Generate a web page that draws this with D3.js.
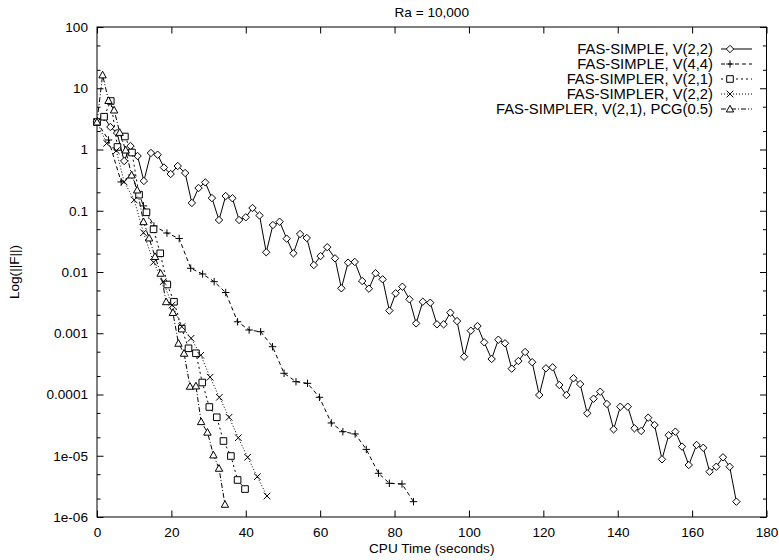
<!DOCTYPE html>
<html><head><meta charset="utf-8">
<script src="https://cdn.jsdelivr.net/npm/d3@7/dist/d3.min.js"></script>
<style>
html,body{margin:0;padding:0;background:#fff;}
svg{display:block;font-family:"Liberation Sans",Arial,Helvetica,sans-serif;}
</style></head><body>
<svg id="chart" width="779" height="560"></svg>
<script>
// ---------- data ----------
const titleText = "Ra = 10,000";
const xLabelText = "CPU Time (seconds)";
const yLabelText = "Log(||F||)";
const xTicks = [0, 20, 40, 60, 80, 100, 120, 140, 160, 180];
const yTicks = [100, 10, 1, 0.1, 0.01, 0.001, 0.0001, 1e-5, 1e-6];
const yTickLabels = ["100", "10", "1", "0.1", "0.01", "0.001", "0.0001", "1e-05", "1e-06"];
const yMinorTicks = [50, 20, 5, 2, 0.5, 0.2, 0.05, 0.02, 0.005, 0.002, 5e-4, 2e-4, 5e-5, 2e-5, 5e-6, 2e-6];
const seriesNames = [
  "FAS-SIMPLE, V(2,2)",
  "FAS-SIMPLE, V(4,4)",
  "FAS-SIMPLER, V(2,1)",
  "FAS-SIMPLER, V(2,2)",
  "FAS-SIMPLER, V(2,1), PCG(0.5)"
];

const timeSimple22 = [0, 1.9, 3.6, 5.4, 7.3, 9.0, 10.9, 12.6, 14.5, 16.3,
  18.0, 19.8, 21.7, 23.7, 25.5, 27.3, 29.1, 30.9, 32.8, 34.6,
  36.4, 38.2, 40.0, 41.8, 43.7, 45.5, 47.3, 49.1, 51.0, 52.8,
  54.6, 56.4, 58.3, 60.1, 61.9, 64.0, 65.7, 67.5, 69.3, 71.3,
  73.1, 74.9, 76.8, 78.6, 80.3, 82.1, 84.0, 85.8, 87.6, 89.6,
  91.4, 93.2, 95.0, 96.8, 98.7, 100.5, 102.3, 104.1, 106.1, 107.9,
  109.7, 111.5, 113.3, 115.1, 117.0, 118.9, 120.7, 122.5, 124.3, 126.2,
  128.1, 129.9, 131.8, 133.5, 135.3, 137.1, 138.9, 140.7, 142.7, 144.5,
  146.3, 148.2, 149.9, 151.9, 153.7, 155.5, 157.3, 159.1, 161.2, 163.0,
  164.7, 166.5, 168.3, 170.1, 171.9];
const resSimple22 = [2.81, 3.39, 2.33, 1.86, 0.649, 1.14, 0.783, 0.306, 0.877, 0.822,
  0.508, 0.398, 0.538, 0.413, 0.134, 0.235, 0.291, 0.161, 0.0706, 0.174,
  0.160, 0.0706, 0.0782, 0.111, 0.0836, 0.0210, 0.0585, 0.0662, 0.0350, 0.0202,
  0.0417, 0.0359, 0.0130, 0.0182, 0.0254, 0.0167, 0.00542, 0.0142, 0.0146, 0.00713,
  0.00534, 0.00953, 0.0076, 0.00234, 0.00449, 0.00575, 0.00358, 0.00145, 0.00327, 0.00315,
  0.00140, 0.00140, 0.00217, 0.00158, 4.14e-4, 1.10e-3, 1.31e-3, 7.11e-4, 3.80e-4, 7.85e-4,
  6.86e-4, 2.64e-4, 3.52e-4, 4.94e-4, 3.37e-4, 9.8e-5, 2.68e-4, 2.78e-4, 1.43e-4, 9.8e-5,
  1.84e-4, 1.48e-4, 4.93e-5, 8.53e-5, 1.11e-4, 7.0e-5, 2.70e-5, 6.32e-5, 6.32e-5, 2.81e-5,
  2.54e-5, 4.18e-5, 3.18e-5, 8.75e-6, 2.16e-5, 2.47e-5, 1.41e-5, 7.06e-6, 1.50e-5, 1.35e-5,
  5.49e-6, 6.62e-6, 9.44e-6, 6.62e-6, 1.78e-6];

const timeSimple44 = [0, 3.1, 6.5, 9.4, 12.5, 15.3, 18.8, 22.1, 25.2, 28.4,
  31.5, 34.6, 37.8, 40.9, 44.0, 47.2, 50.3, 53.5, 56.6, 59.8,
  63.0, 66.1, 69.4, 72.4, 75.7, 78.6, 82.0, 85.1];
const resSimple44 = [2.81, 1.43, 0.295, 0.383, 0.120, 0.0564, 0.0433, 0.0352, 0.0115, 0.00927,
  0.00695, 0.00462, 0.00154, 0.00113, 0.00106, 6.03e-4, 2.22e-4, 1.62e-4, 1.52e-4, 9.0e-5,
  3.43e-5, 2.47e-5, 2.27e-5, 1.27e-5, 5.17e-6, 3.55e-6, 3.46e-6, 1.78e-6];

const timeSimpler21 = [0, 1.9, 3.7, 5.5, 7.5, 9.4, 11.3, 13.3, 15.2, 17.0,
  18.9, 20.7, 22.8, 24.6, 26.6, 28.3, 30.2, 32.2, 34.0, 36.0,
  37.8, 39.8];
const resSimpler21 = [2.81, 3.43, 6.19, 1.10, 1.63, 0.893, 0.183, 0.0944, 0.0498, 0.0202,
  0.00625, 0.00327, 0.00119, 5.68e-4, 4.71e-4, 1.57e-4, 6.25e-5, 4.25e-5, 1.74e-5, 9.9e-6,
  4.02e-6, 2.86e-6];

const timeSimpler22 = [0, 2.6, 5.2, 7.3, 10.0, 12.5, 15.2, 17.8, 20.2, 22.8,
  25.3, 27.9, 30.4, 32.9, 35.5, 38.0, 40.5, 43.1, 45.7];
const resSimpler22 = [2.81, 1.26, 0.955, 0.295, 0.150, 0.0438, 0.0144, 0.00695, 0.00289, 0.00128,
  8.28e-4, 4.37e-4, 1.92e-4, 9.0e-5, 4.25e-5, 1.97e-5, 9.44e-6, 4.55e-6, 2.2e-6];

const timeSimplerPcg = [0, 1.5, 3.1, 4.6, 6.1, 7.7, 9.3, 10.8, 12.5, 14.0,
  15.6, 17.1, 18.6, 20.4, 21.9, 23.4, 25.0, 26.6, 28.0, 29.7,
  31.3, 32.8, 34.4];
const resSimplerPcg = [2.81, 16.5, 6.31, 4.41, 1.90, 0.98, 0.383, 0.218, 0.0662, 0.0359,
  0.0179, 0.00953, 0.00327, 0.00218, 6.86e-4, 4.71e-4, 1.36e-4, 1.38e-4, 3.6e-5, 2.42e-5,
  1.03e-5, 6.24e-6, 1.61e-6];

// ---------- layout ----------
const plotL = 97, plotR = 766.5, plotT = 27, plotB = 517;
const svg = d3.select("#chart");
const xScale = d3.scaleLinear().domain([0, 180]).range([plotL, plotR]);
const yScale = d3.scaleLog().domain([1e-6, 100]).range([plotB, plotT]);

const fontSize = 13.6;
const legendFontSize = 14.8;

// marker shapes
function markerPath(kind) {
  const p = d3.path();
  if (kind === "diamond") {
    const r = 3.7;
    p.moveTo(0, -r); p.lineTo(r, 0); p.lineTo(0, r); p.lineTo(-r, 0); p.closePath();
  } else if (kind === "plus") {
    const r = 3.7;
    p.moveTo(-r, 0); p.lineTo(r, 0); p.moveTo(0, -r); p.lineTo(0, r);
  } else if (kind === "square") {
    const r = 3.3;
    p.rect(-r, -r, 2 * r, 2 * r);
  } else if (kind === "cross") {
    const r = 3.3;
    p.moveTo(-r, -r); p.lineTo(r, r); p.moveTo(-r, r); p.lineTo(r, -r);
  } else if (kind === "triangle") {
    const r = 3.7;
    p.moveTo(0, -r); p.lineTo(r, r * 0.8); p.lineTo(-r, r * 0.8); p.closePath();
  }
  return p.toString();
}

const series = [
  { name: seriesNames[0], t: timeSimple22, v: resSimple22, marker: "diamond", dash: null },
  { name: seriesNames[1], t: timeSimple44, v: resSimple44, marker: "plus", dash: "4,3" },
  { name: seriesNames[2], t: timeSimpler21, v: resSimpler21, marker: "square", dash: "2,3" },
  { name: seriesNames[3], t: timeSimpler22, v: resSimpler22, marker: "cross", dash: "1,2" },
  { name: seriesNames[4], t: timeSimplerPcg, v: resSimplerPcg, marker: "triangle", dash: "5,2,1,2" }
].map(s => ({ ...s, pts: s.t.map((t, i) => ({ t, v: s.v[i] })) }));

// ---------- axes ----------
function styleAxis(g) {
  g.select(".domain").remove();
  g.selectAll(".tick line").attr("stroke", "#000").attr("stroke-width", 1);
  g.selectAll(".tick text").attr("fill", "#000").attr("font-size", fontSize)
    .attr("font-family", '"Liberation Sans", Arial, sans-serif');
}

svg.append("g").attr("transform", `translate(0,${plotB})`)
  .call(d3.axisBottom(xScale).tickValues(xTicks).tickFormat(d3.format("d"))
    .tickSizeInner(-6.5).tickSizeOuter(0).tickPadding(10.5))
  .call(styleAxis);
svg.append("g").attr("transform", `translate(0,${plotT})`)
  .call(d3.axisTop(xScale).tickValues(xTicks).tickFormat("")
    .tickSizeInner(-6.5).tickSizeOuter(0))
  .call(styleAxis);

svg.append("g").attr("transform", `translate(${plotL},0)`)
  .call(d3.axisLeft(yScale).tickValues(yTicks).tickFormat((d, i) => yTickLabels[i])
    .tickSizeInner(-6.5).tickSizeOuter(0).tickPadding(9))
  .call(styleAxis);
svg.append("g").attr("transform", `translate(${plotL},0)`)
  .call(d3.axisLeft(yScale).tickValues(yMinorTicks).tickFormat("")
    .tickSizeInner(-3.5).tickSizeOuter(0))
  .call(styleAxis);
svg.append("g").attr("transform", `translate(${plotR},0)`)
  .call(d3.axisRight(yScale).tickValues(yTicks).tickFormat("")
    .tickSizeInner(-6.5).tickSizeOuter(0))
  .call(styleAxis);
svg.append("g").attr("transform", `translate(${plotR},0)`)
  .call(d3.axisRight(yScale).tickValues(yMinorTicks).tickFormat("")
    .tickSizeInner(-3.5).tickSizeOuter(0))
  .call(styleAxis);

svg.append("rect").attr("x", plotL).attr("y", plotT)
  .attr("width", plotR - plotL).attr("height", plotB - plotT)
  .attr("fill", "none").attr("stroke", "#000").attr("stroke-width", 1);

// ---------- labels ----------
svg.append("text").attr("x", (plotL + plotR) / 2).attr("y", 17)
  .attr("text-anchor", "middle").attr("font-size", fontSize).text(titleText);
svg.append("text").attr("x", (plotL + plotR) / 2).attr("y", 552.5)
  .attr("text-anchor", "middle").attr("font-size", fontSize).text(xLabelText);
svg.append("text").attr("transform", `translate(19,${(plotT + plotB) / 2}) rotate(-90)`)
  .attr("text-anchor", "middle").attr("font-size", fontSize).text(yLabelText);

// ---------- series ----------
const lineGen = d3.line().x(d => xScale(d.t)).y(d => yScale(d.v));
const plot = svg.append("g");
series.forEach(s => {
  plot.append("path").datum(s.pts).attr("d", lineGen)
    .attr("fill", "none").attr("stroke", "#000").attr("stroke-width", 1)
    .attr("stroke-dasharray", s.dash);
});
series.forEach(s => {
  plot.append("g").selectAll("path").data(s.pts).join("path")
    .attr("transform", d => `translate(${xScale(d.t)},${yScale(d.v)})`)
    .attr("d", markerPath(s.marker))
    .attr("fill", (s.marker === "plus" || s.marker === "cross") ? "none" : "#fff")
    .attr("stroke", "#000").attr("stroke-width", 1);
});

// ---------- legend ----------
const legRowY = [49, 64, 79, 94, 109];
const legend = svg.append("g");
series.forEach((s, i) => {
  const yy = legRowY[i];
  legend.append("text").attr("x", 713).attr("y", yy).attr("dy", "0.35em")
    .attr("text-anchor", "end").attr("font-size", legendFontSize).text(s.name);
  legend.append("line").attr("x1", 721).attr("x2", 752).attr("y1", yy).attr("y2", yy)
    .attr("stroke", "#000").attr("stroke-width", 1).attr("stroke-dasharray", s.dash);
  legend.append("path").attr("transform", `translate(730,${yy})`)
    .attr("d", markerPath(s.marker))
    .attr("fill", (s.marker === "plus" || s.marker === "cross") ? "none" : "#fff")
    .attr("stroke", "#000").attr("stroke-width", 1);
});
</script>
</body></html>
